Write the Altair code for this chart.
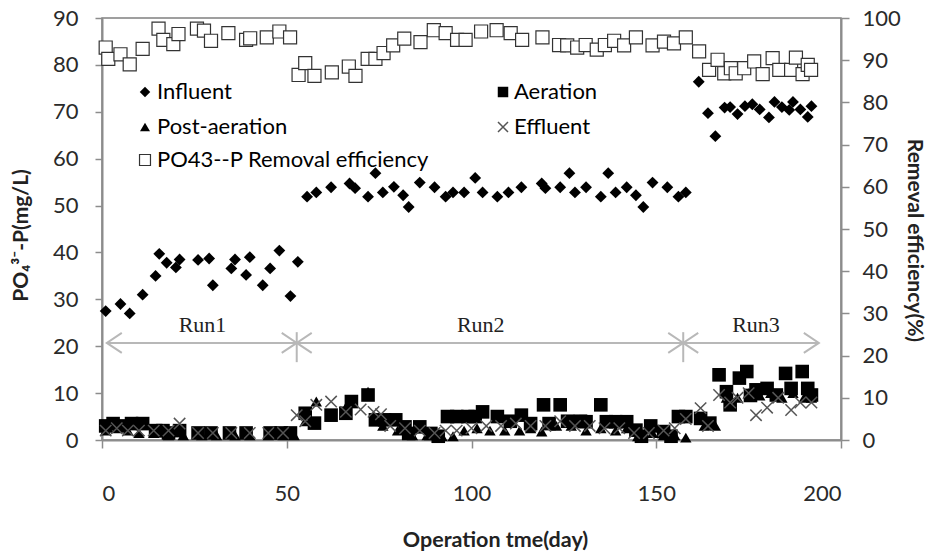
import altair as alt
import pandas as pd

# ---------------- data ----------------
inf_day = [1, 5, 7.5, 11, 14.5, 15.5, 17.5, 20, 21, 26, 29, 30, 35, 36, 39, 40, 43.5, 45.5, 48, 51, 53,
           55.5, 58, 62, 67, 68.5, 72, 74, 76, 79, 81.5, 83, 86, 90, 93, 95, 98, 101, 103, 107, 110,
           113.5, 119, 120, 124, 126.5, 128, 131, 135, 137, 139, 142, 144.5, 146.5, 149, 153, 156, 158,
           161.5, 164, 166, 168.5, 170, 172, 174, 176, 178, 180.5, 182, 184, 186, 187, 189, 191, 192]
inf_val = [27.5, 29, 27, 31, 35, 39.7, 37.8, 36.8, 38.5, 38.4, 38.7, 33, 36.6, 38.5, 35.2, 39, 33, 36.6, 40.4, 30.7, 38,
           51.9, 52.8, 53.9, 54.7, 53.7, 51.9, 56.9, 52.8, 54, 52.2, 49.7, 54.9, 53.9, 51.9, 52.8, 52.8,
           55.9, 52.8, 51.9, 52.8, 53.9, 54.7, 53.7, 53.9, 56.9, 52.8, 53.9, 51.9, 56.9, 52.8, 53.9, 52.2,
           49.7, 54.9, 53.9, 51.9, 52.8,
           76.4, 69.7, 64.8, 70.9, 71, 69.5, 71.2, 71.6, 70.5, 68.8, 72.1, 71, 70.4, 72.1, 70.5, 68.9, 71.2]

aer_day = [1, 3, 5, 8, 11, 14.5, 16.5, 18, 21, 26, 29.5, 34.5, 39, 45.5, 48.5, 51,
           55, 57.5, 62, 66, 67.5, 72, 74, 76.5, 79.5, 82, 83, 86, 89, 91, 93.5, 96, 99, 101, 103, 107,
           110.5, 113.5, 116, 119.5, 121, 124, 126, 129.5, 131, 135, 136.5, 139, 142, 144.5, 146, 148.5,
           152, 154, 156, 158,
           162, 164.5, 167, 169, 170, 172.5, 174.5, 175.5, 177, 180, 182.5, 185, 186.5, 189.5, 191, 192]
aer_val = [3, 3.5, 3, 3.5, 3.5, 2, 2, 1.5, 2, 1.5, 1.5, 1.5, 1.5, 1.5, 1.5, 1.5,
           5.7, 3.6, 5.3, 5.7, 8.2, 9.6, 4.3, 4.3, 4.3, 2.8, 1.4, 2.8, 1.4, 0.8, 5, 5, 5, 5, 6, 5,
           4, 5.3, 3.5, 7.5, 3.5, 7.5, 4, 4, 3.9, 7.5, 3.9, 3.9, 3.9, 2.1, 0.8, 3,
           1.8, 0.8, 5, 5,
           4.6, 3.6, 13.9, 10.3, 7.5, 13.2, 14.6, 9.5, 10.7, 11, 9.6, 14.2, 11, 14.6, 11, 9.6]

post_day = [1, 4, 7, 10, 14, 18, 22, 27, 31, 36, 40, 45, 49, 52,
            55, 58, 62, 66, 72, 76, 80, 84, 88, 92, 95, 98, 101.5, 105, 109, 113, 116, 119, 123, 127,
            131, 135, 139, 142, 145, 149, 152, 155, 158,
            163, 166, 169, 172, 175, 178, 181, 184, 187, 190, 192]
post_val = [2, 2.5, 2, 1.5, 1.5, 1, 1, 1, 1, 1, 1, 1, 1, 1,
            4, 8.2, 5, 7, 10.3, 3, 2, 1, 1, 0.8, 0.8, 2, 2.5, 2, 2, 2, 2.5, 1.8, 3, 3,
            2, 2.5, 2, 2.5, 0.8, 1.5, 1, 1, 0.5,
            3, 3, 9, 9, 10, 9.5, 10, 9, 10, 9, 9]

eff_day = [1, 4, 7, 10, 14, 18, 21, 26, 30, 35, 40, 45, 49, 52.7,
           55, 58, 62, 66, 70, 73.5, 75.5, 78, 82, 86, 90, 93, 96, 100, 104, 108, 112, 116, 120, 124,
           128, 132, 136, 140, 144, 148, 152, 155, 158,
           162, 164, 167, 170, 172, 175, 177, 180, 183, 186.5, 189, 192]
eff_val = [2, 2.5, 2, 2, 2, 2, 3.5, 1.5, 1.5, 1.5, 1.5, 1.5, 1.5, 5.3,
           4, 7.5, 8.2, 6, 6.5, 6, 5.5, 3, 2.5, 2, 1.5, 2, 2, 2.5, 3, 3, 3.5, 3, 3, 4,
           3, 3, 2.5, 2.5, 1.5, 1.5, 2, 2.5, 4.5,
           6.8, 3, 9.6, 8, 9, 10, 5.3, 6.9, 9, 6.4, 8, 8]

rem_day = [1, 1.7, 5, 7.5, 11, 15.3, 16.6, 19.3, 20.7, 25.7, 27.6, 29.5, 34.2, 39, 40.1, 44.6, 48, 50.9,
           53.2, 55, 57.5, 62.2, 66.8, 68.6, 71.9, 74, 76.2, 78.8, 81.8, 86.2, 89.8, 93, 96.1, 98.4,
           102.6, 106.8, 110.6, 113.7, 119.2, 123.7, 125.9, 128.6, 130.9, 133.9, 136.1, 138.6, 141.3,
           144.5, 149, 152.1, 154.8, 158,
           161.6, 164.3, 166.6, 168.4, 170.2, 171.5, 173.8, 176.5, 178.8, 181.5, 183.3, 186.5, 187.8,
           189.6, 191, 191.9]
rem_val = [93, 90.3, 91.4, 89, 92.7, 97.5, 94.8, 93.8, 96.2, 97.5, 97, 94.6, 96.4, 94.8, 95.2, 95.4, 96.8, 95.4,
           86.5, 89.3, 86.3, 87.1, 88.5, 86.3, 90.3, 90.3, 91.7, 93.5, 95.1, 94.3, 97.1, 96.4, 94.8, 94.8,
           96.8, 97.1, 96.4, 94.8, 95.4, 93.6, 93.5, 93, 93.6, 92.5, 93.6, 94.6, 93.5,
           95.4, 93.5, 94.4, 94, 95.4,
           92.1, 87.7, 90.1, 86.9, 88.1, 86.9, 88.1, 89.7, 86.7, 90.5, 87.7, 87.7, 90.6,
           86.7, 88.9, 87.7]

run_labels = ["Run1", "Run2", "Run3"]
run_start = [1.3, 52.7, 157.3]
run_end = [52.7, 157.3, 194]
run_label_day = [27.2, 102.5, 177]
run_level = 20.7
run_label_level = 24.5
run_bounds = [52.7, 157.3]

legend_labels = ["Influent", "Post-aeration", "PO43--P Removal efficiency", "Aeration", "Effluent"]

# ---------------- frames ----------------
df_inf = pd.DataFrame({"day": inf_day, "mg": inf_val})
df_aer = pd.DataFrame({"day": aer_day, "mg": aer_val})
df_post = pd.DataFrame({"day": post_day, "mg": post_val})
df_effl = pd.DataFrame({"day": eff_day, "mg": eff_val})
df_rem = pd.DataFrame({"day": rem_day, "eff": rem_val})
df_runs = pd.DataFrame({"day": run_start, "day2": run_end, "mg": [run_level] * 3,
                        "lday": run_label_day, "lmg": [run_label_level] * 3, "label": run_labels})
df_bounds = pd.DataFrame({"day": run_bounds, "mg": [16.6] * 2, "mg2": [23.0] * 2})
df_left_tips = pd.DataFrame({"day": run_start, "mg": [run_level] * 3})
df_right_tips = pd.DataFrame({"day": run_end, "mg": [run_level] * 3})

FONT = "Lato"
GRAY = "#8c8c8c"
RUNGRAY = "#b8b8b8"

xscale = alt.Scale(domain=[0, 200], nice=False, zero=False)
yscale = alt.Scale(domain=[0, 90], nice=False)
escale = alt.Scale(domain=[0, 100], nice=False)

xaxis = alt.Axis(values=[0, 50, 100, 150, 200], title="Operation tme(day)", grid=False,
                 labelFont=FONT, labelFontSize=22, labelColor="#2a2a2a", labelPadding=35,
                 tickSize=8, tickColor=GRAY, tickWidth=1.5, domainColor=GRAY, domainWidth=2,
                 titleFont=FONT, titleFontSize=21.5, titleFontWeight="bold", titleColor="#222",
                 titleX=393, titleY=100, titleAlign="center", titleBaseline="middle", titleAnchor="start")
yaxis = alt.Axis(values=list(range(0, 91, 10)), title="PO₄³⁻-P(mg/L)", grid=False, orient="left",
                 labelFont=FONT, labelFontSize=22, labelColor="#2a2a2a", labelPadding=17,
                 tickSize=7, tickColor=GRAY, tickWidth=1.5, domainColor=GRAY, domainWidth=2,
                 titleFont=FONT, titleFontSize=21, titleFontWeight="bold", titleColor="#222",
                 titleAngle=-90, titleX=-81, titleY=217, titleAlign="center", titleBaseline="middle",
                 titleAnchor="start")
eaxis = alt.Axis(values=list(range(0, 101, 10)), title="Remeval efficiency(%)", grid=False, orient="right",
                 labelFont=FONT, labelFontSize=22, labelColor="#2a2a2a", labelPadding=13,
                 tickSize=8, tickColor=GRAY, tickWidth=1.5, domainColor=GRAY, domainWidth=2,
                 titleFont=FONT, titleFontSize=21, titleFontWeight="bold", titleColor="#222",
                 titleAngle=90, titleX=72, titleY=222, titleAlign="center", titleBaseline="middle",
                 titleAnchor="start")

X = alt.X("day:Q", scale=xscale, axis=xaxis)
Y = alt.Y("mg:Q", scale=yscale, axis=yaxis)

XPATH = "M-1,-1L1,1M-1,1L1,-1"
CHEV_LEFT = "M1.5,-1L0,0L1.5,1"
CHEV_RIGHT = "M-1.5,-1L0,0L-1.5,1"

# run annotation
run_lines = alt.Chart(df_runs).mark_rule(color=RUNGRAY, strokeWidth=2).encode(
    x=X, x2="day2:Q", y=Y)
run_bound_lines = alt.Chart(df_bounds).mark_rule(color=RUNGRAY, strokeWidth=2).encode(
    x=X, y=Y, y2="mg2:Q")
tips_l = alt.Chart(df_left_tips).mark_point(shape=CHEV_LEFT, filled=False, size=400, strokeWidth=2,
                                             color=RUNGRAY, opacity=1).encode(x=X, y=Y)
tips_r = alt.Chart(df_right_tips).mark_point(shape=CHEV_RIGHT, filled=False, size=400, strokeWidth=2,
                                              color=RUNGRAY, opacity=1).encode(x=X, y=Y)
run_text = alt.Chart(df_runs).mark_text(font="Liberation Serif", fontSize=22, color="#222",
                                        baseline="middle", align="center").encode(
    x=alt.X("lday:Q", scale=xscale, axis=xaxis), y=alt.Y("lmg:Q", scale=yscale, axis=yaxis), text="label:N")

# series
inf = alt.Chart(df_inf).mark_point(shape="diamond", filled=True, color="black", size=140, opacity=1).encode(x=X, y=Y)
aer = alt.Chart(df_aer).mark_point(shape="square", filled=True, color="black", size=185, opacity=1).encode(x=X, y=Y)
post = alt.Chart(df_post).mark_point(shape="triangle-up", filled=True, color="black", size=130, opacity=1).encode(x=X, y=Y)
effl = alt.Chart(df_effl).mark_point(shape=XPATH, filled=False, color="#555", size=130, strokeWidth=1.5,
                                     opacity=1).encode(x=X, y=Y)

# legend (manual, inside plot area)
def leg_sym(label, px, py, **kw):
    return alt.Chart(pd.DataFrame({"label": [label]})).mark_point(opacity=1, **kw).encode(
        x=alt.value(px), y=alt.value(py))

def leg_txt(label, px, py):
    return alt.Chart(pd.DataFrame({"label": [label]})).mark_text(
        font=FONT, fontSize=22, color="black", align="left", baseline="middle").encode(
        x=alt.value(px), y=alt.value(py), text="label:N")

c1s, c1t, c2s, c2t = 43, 55, 401, 412
r1, r2, r3 = 74, 109, 142
legend = [
    leg_sym(legend_labels[0], c1s, r1, shape="diamond", filled=True, color="black", size=110),
    leg_txt(legend_labels[0], c1t, r1),
    leg_sym(legend_labels[1], c1s, r2, shape="triangle-up", filled=True, color="black", size=100),
    leg_txt(legend_labels[1], c1t, r2),
    leg_sym(legend_labels[2], c1s, r3, shape="square", filled=True, fill="white", stroke="#333",
            strokeWidth=1.2, size=120),
    leg_txt(legend_labels[2], c1t, r3),
    leg_sym(legend_labels[3], c2s, r1, shape="square", filled=True, color="black", size=110),
    leg_txt(legend_labels[3], c2t, r1),
    leg_sym(legend_labels[4], c2s, r2, shape=XPATH, filled=False, color="#555", size=100, strokeWidth=1.5),
    leg_txt(legend_labels[4], c2t, r2),
]

left = alt.layer(run_lines, run_bound_lines, tips_l, tips_r, run_text, inf, aer, post, effl, *legend)

rem = alt.Chart(df_rem).mark_point(shape="square", filled=True, fill="white", stroke="#333", strokeWidth=1.2,
                                   size=170, opacity=1).encode(
    x=X, y=alt.Y("eff:Q", scale=escale, axis=eaxis))

chart = alt.layer(left, rem).resolve_scale(y="independent").properties(
    width=739, height=422,
    padding={"left": 102, "top": 18, "right": 87, "bottom": 115},
    autosize=alt.AutoSizeParams(type="none"),
    background="white",
).configure_view(stroke="#808080", strokeWidth=1.5)

chart.save("out.html", embed_options={"renderer": "svg", "actions": False})
